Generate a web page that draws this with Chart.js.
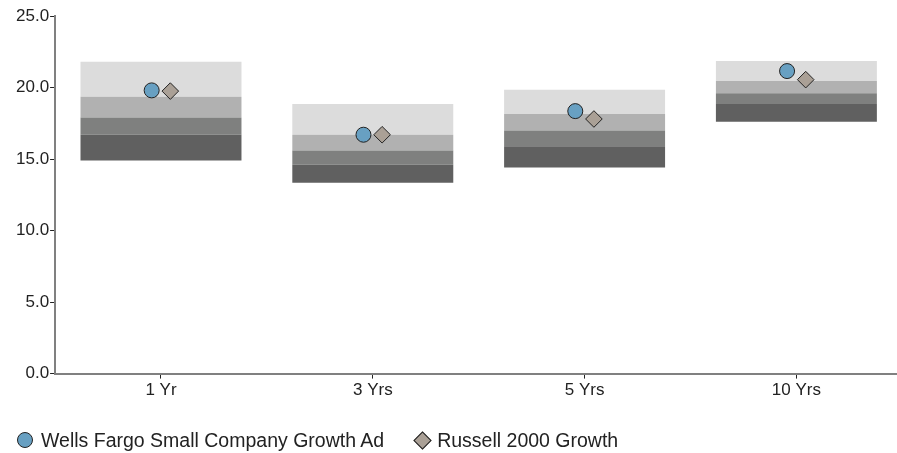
<!DOCTYPE html>
<html>
<head>
<meta charset="utf-8">
<script src="https://cdn.jsdelivr.net/npm/chart.js@4.4.1/dist/chart.umd.min.js"></script>
<style>
    html, body { margin: 0; padding: 0; background: #fff; }
    #wrap { position: relative; width: 897px; height: 453px; overflow: hidden; }
    #legend {
        position: absolute; left: 17px; top: 430px; height: 20px; line-height: 20px;
        font: 19.5px "Liberation Sans", Arial, sans-serif; color: #222; white-space: nowrap;
        display: flex; align-items: center;
    }
    .item { display: flex; align-items: center; }
    .dot { width: 14px; height: 14px; border: 1px solid #222; border-radius: 50%; margin-right: 8px; }
    .dia { width: 11px; height: 11px; border: 1px solid #222; transform: rotate(45deg); margin-left: 32px; margin-right: 8px; }
</style>
</head>
<body>
<div id="wrap">
    <canvas id="perfChart" width="897" height="453"></canvas>
    <div id="legend"></div>
</div>
<script>
// categories and series
const periods = ['1 Yr', '3 Yrs', '5 Yrs', '10 Yrs'];
const seriesNames = ['Wells Fargo Small Company Growth Ad', 'Russell 2000 Growth'];
const fundReturns = [19.8, 16.7, 18.35, 21.15];
const indexReturns = [19.75, 16.7, 17.8, 20.55];

// peer group percentile bands (bottom -> top)
const pct95 = [14.9, 13.35, 14.4, 17.6];
const pct75 = [16.7, 14.6, 15.9, 18.85];
const pct50 = [17.9, 15.6, 17.0, 19.6];
const pct25 = [19.35, 16.7, 18.15, 20.45];
const pct5 = [21.8, 18.85, 19.85, 21.85];

const yTicks = [0, 5, 10, 15, 20, 25];

let bandColors = ['#606060', '#7f807f', '#b1b1b1', '#dcdcdc'];
let bandEdges = [pct95, pct75, pct50, pct25, pct5];
let pointOffset = 0.044;

let datasets = [];
for (let b = 0; b < 4; b++) {
    let lo = bandEdges[b];
    let hi = bandEdges[b + 1];
    datasets.push({
        type: 'bar',
        label: 'band' + b,
        data: periods.map((p, i) => ({ x: i, y: [lo[i], hi[i]] })),
        backgroundColor: bandColors[b],
        borderWidth: 0,
        barPercentage: 0.76,
        categoryPercentage: 1,
        order: 2
    });
}

datasets.push({
    type: 'line',
    label: seriesNames[0],
    data: fundReturns.map((v, i) => ({ x: i - pointOffset, y: v })),
    showLine: false,
    pointStyle: 'circle',
    pointRadius: 7.5,
    pointBackgroundColor: '#68a0c2',
    pointBorderColor: '#222',
    pointBorderWidth: 1,
    order: 0
});
datasets.push({
    type: 'line',
    label: seriesNames[1],
    data: indexReturns.map((v, i) => ({ x: i + pointOffset, y: v })),
    showLine: false,
    pointStyle: 'rectRot',
    pointRadius: 8.3,
    pointBackgroundColor: '#aaa096',
    pointBorderColor: '#222',
    pointBorderWidth: 1,
    order: 0
});

const tickFont = { family: '"Liberation Sans", Arial, sans-serif', size: 17 };

new Chart(document.getElementById('perfChart').getContext('2d'), {
    type: 'bar',
    data: { datasets: datasets },
    options: {
        responsive: false,
        animation: false,
        layout: { autoPadding: false, padding: { left: 15, top: 16, right: 0, bottom: 50 } },
        plugins: {
            legend: { display: false },
            tooltip: { enabled: false }
        },
        scales: {
            x: {
                type: 'linear',
                stacked: true,
                offset: false,
                min: -0.5,
                max: periods.length - 0.525,
                afterBuildTicks: (scale) => { scale.ticks = periods.map((p, i) => ({ value: i })); },
                afterFit: (scale) => { scale.paddingRight = 0; },
                grid: { drawOnChartArea: false, offset: false, tickLength: 5, color: '#222' },
                border: { color: '#808080', width: 2 },
                ticks: { font: tickFont, color: '#222', padding: 2, callback: v => periods[v] }
            },
            y: {
                stacked: false,
                min: yTicks[0],
                max: yTicks[yTicks.length - 1],
                afterBuildTicks: (scale) => { scale.ticks = yTicks.map(v => ({ value: v })); },
                grid: { drawOnChartArea: false, tickLength: 5, color: '#222' },
                border: { color: '#808080', width: 2 },
                ticks: { font: tickFont, color: '#222', padding: 1, callback: v => Number(v).toFixed(1) }
            }
        }
    }
});

// legend
let legendHtml = '';
legendHtml += '<span class="item"><span class="dot" style="background:#68a0c2"></span>' + seriesNames[0] + '</span>';
legendHtml += '<span class="item"><span class="dia" style="background:#aaa096"></span>' + seriesNames[1] + '</span>';
document.getElementById('legend').innerHTML = legendHtml;
</script>
</body>
</html>
